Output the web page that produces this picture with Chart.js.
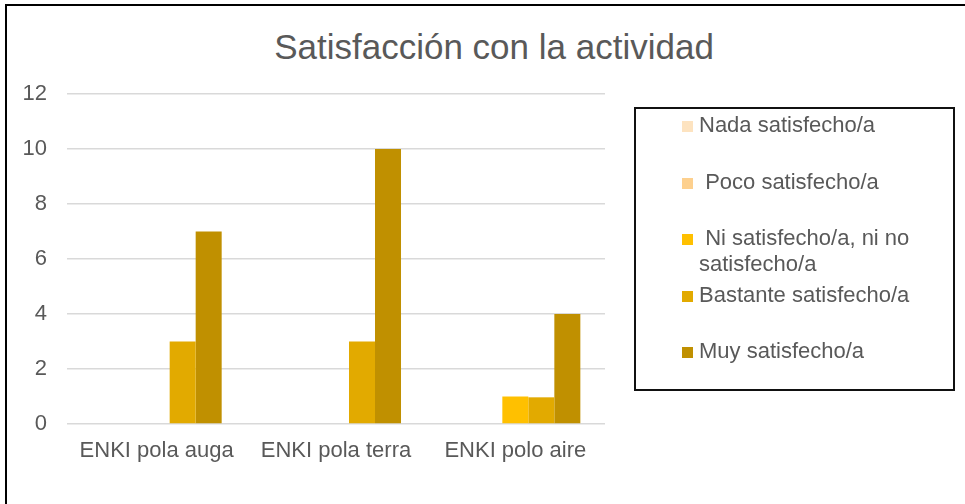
<!DOCTYPE html>
<html>
<head>
<meta charset="utf-8">
<script src="https://cdn.jsdelivr.net/npm/chart.js"></script>
<style>
  body { margin: 0; background: #fff; font-family: "Liberation Sans", Arial, sans-serif; }
  #wrap { position: relative; width: 965px; height: 504px; overflow: hidden; }
  #frame { position: absolute; left: 5px; top: 4px; width: 1000px; height: 600px; border-left: 2px solid #000; border-top: 2px solid #000; }
  #title { position: absolute; left: 150px; width: 688px; top: 27px; text-align: center; font-size: 35px; color: #595959; }
  canvas { position: absolute; left: 0; top: 0; }
  #legend { position: absolute; left: 634px; top: 107px; width: 317px; height: 280px; border: 2px solid #111; box-sizing: content-box; }
  .item { position: absolute; left: 46px; display: flex; align-items: flex-start; }
  .box { width: 11px; height: 11px; margin-top: 9px; margin-right: 6px; flex: none; }
  .txt { font-size: 22px; line-height: 26px; color: #595959; white-space: pre-wrap; width: 240px; }
</style>
</head>
<body>
<div id="wrap">
  <div id="frame"></div>
  <div id="title">Satisfacción con la actividad</div>
  <canvas id="myChart" width="965" height="504"></canvas>
  <div id="legend"></div>
</div>
<script>
const categories = ['ENKI pola auga', 'ENKI pola terra', 'ENKI polo aire'];
const seriesNames = ['Nada satisfecho/a', ' Poco satisfecho/a', ' Ni satisfecho/a, ni no satisfecho/a', 'Bastante satisfecho/a', 'Muy satisfecho/a'];
const nada = [0, 0, 0];
const poco = [0, 0, 0];
const ni = [0, 0, 1];
const bastante = [3, 3, 0.97];
const muy = [7, 10, 4];
const yTicks = [0, 2, 4, 6, 8, 10, 12];
const colors = ['#fde3c0', '#fdd08e', '#ffc000', '#e2aa00', '#c09000'];

const values = [nada, poco, ni, bastante, muy];

const data = {
    labels: categories,
    datasets: seriesNames.map((name, i) => ({
        label: name,
        data: values[i],
        backgroundColor: colors[i],
        borderWidth: 0,
        barPercentage: 1,
        categoryPercentage: 0.725
    }))
};

const config = {
    type: 'bar',
    data,
    options: {
        responsive: false,
        animation: false,
        layout: { padding: { left: 20, top: 94, right: 360, bottom: 0 } },
        plugins: { legend: { display: false }, title: { display: false }, tooltip: { enabled: false } },
        scales: {
            x: {
                grid: { display: false, drawTicks: false },
                border: { display: false },
                ticks: { color: '#595959', font: { family: 'Liberation Sans', size: 22 }, padding: 14, maxRotation: 0 },
                afterFit: s => { s.height = 80; }
            },
            y: {
                min: 0,
                max: 12,
                afterBuildTicks: s => { s.ticks = yTicks.map(v => ({ value: v })); },
                grid: { color: '#d9d9d9', lineWidth: 1.5, drawTicks: false },
                border: { display: false },
                ticks: { color: '#595959', font: { family: 'Liberation Sans', size: 22 }, padding: 20 },
                afterFit: s => { s.width = 47; }
            }
        }
    }
};

new Chart(document.getElementById('myChart'), config);

// legend in a framed box, one slot per series
const legend = document.getElementById('legend');
seriesNames.forEach((name, i) => {
    const item = document.createElement('div');
    item.className = 'item';
    item.style.top = (3 + i * 56.5) + 'px';
    item.innerHTML = '<div class="box" style="background:' + colors[i] + '"></div><div class="txt"></div>';
    item.querySelector('.txt').textContent = name;
    legend.appendChild(item);
});
</script>
</body>
</html>
